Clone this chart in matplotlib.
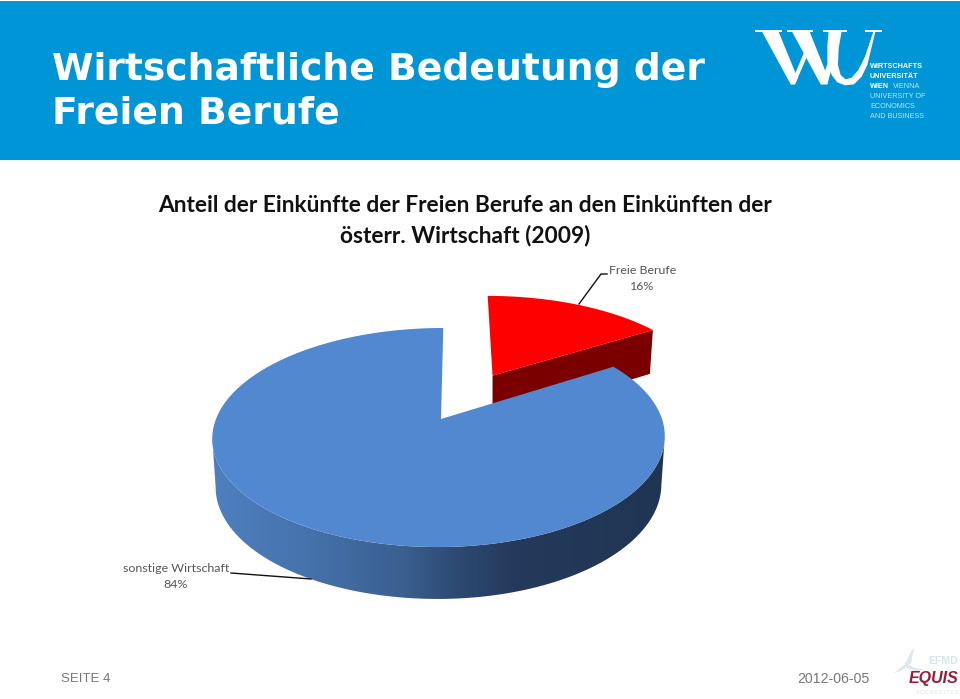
#!/usr/bin/env python3
"""Anteil der Freien Berufe - slide with exploded 3D pie, drawn in pixel coords"""

import matplotlib
matplotlib.use('Agg')
import matplotlib.pyplot as plt
import numpy as np
from matplotlib.colors import LinearSegmentedColormap
from matplotlib.patches import Polygon, Rectangle

# chart data
categories = ['Freie Berufe', 'sonstige Wirtschaft']
shares = [16, 84]
slice_colors = ['#ff0000', '#5288d0']
explode = [0.50, 0.0]

title_lines = ['Wirtschaftliche Bedeutung der', 'Freien Berufe']
chart_title = ['Anteil der Einkünfte der Freien Berufe an den Einkünften der',
               'österr. Wirtschaft (2009)']

# pie projection, in pixels
APEX_X, APEX_Y = 441, 419
FX, FY, PERSP, SKEW = 225.0, 106.4, 0.169, 0.025
FX_RIGHT = 221.0


def project(u, v, fx=FX):
    """Disc coordinates to screen, with simple perspective"""
    d = 1 + PERSP * v
    y = APEX_Y - FY * v / d
    return APEX_X + fx * u / d + SKEW * (APEX_Y - y), y


def wall_offset(v):
    """Height of the extruded side, nearer is taller"""
    return 47.5 / (1 + 0.085 * v)


def disc_points(a0, a1, n, shift=(0, 0)):
    t = np.radians(np.linspace(a0, a1, n))
    return np.sin(t) + shift[0], np.cos(t) + shift[1]


def logo_poly(ax, pts):
    pts = np.array(pts, dtype=float)
    ax.add_patch(Polygon(np.column_stack([750 + pts[:, 0] / 3, 25 + pts[:, 1] / 3]),
                         color='white', lw=0))


fig = plt.figure(figsize=(9.6, 6.99), dpi=100, facecolor='white')
ax = fig.add_axes([0, 0, 1, 1])
ax.axis('off')

# header band
ax.add_patch(Rectangle((0, 1), 960, 159, color='#0095d6', lw=0))
for y, line in zip([69.5, 113.5], title_lines):
    ax.text(52, y, line, color='white', fontsize=27.1, fontweight='bold',
            family='DejaVu Sans', va='center', ha='left')

# WU logo
logo_poly(ax, [(15, 15), (95, 15), (95, 22), (15, 22)])
logo_poly(ax, [(35, 18), (85, 18), (143, 160), (135, 178), (122, 178)])
logo_poly(ax, [(122, 178), (135, 178), (175, 85), (168, 68)])
logo_poly(ax, [(110, 15), (190, 15), (190, 22), (110, 22)])
logo_poly(ax, [(125, 18), (178, 18), (235, 160), (232, 178), (212, 178)])
logo_poly(ax, [(212, 178), (232, 178), (245, 130), (236, 105)])
logo_poly(ax, [(218, 15), (292, 15), (292, 22), (218, 22)])
logo_poly(ax, [(345, 15), (395, 15), (395, 20), (345, 20)])
logo_poly(ax, [(236, 18), (232, 60), (232, 110), (245, 150), (262, 172), (285, 181),
               (312, 178), (335, 155), (352, 120), (376, 20), (370, 20), (345, 95),
               (325, 135), (305, 158), (287, 163), (272, 150), (264, 120), (266, 70),
               (275, 18)])
logo_lines = [('WIRTSCHAFTS', 'bold', 'white'), ('UNIVERSITÄT', 'bold', 'white'),
              ('WIEN', 'bold', 'white'), ('UNIVERSITY OF', 'normal', '#bfe6f7'),
              ('ECONOMICS', 'normal', '#bfe6f7'), ('AND BUSINESS', 'normal', '#bfe6f7')]
for i, (txt, weight, col) in enumerate(logo_lines):
    ax.text(870, 67 + i * 9.8, txt, color=col, fontsize=5.2, fontweight=weight,
            family='Liberation Sans', va='center', ha='left')
ax.text(893, 86.6, 'VIENNA', color='#bfe6f7', fontsize=5.2,
        family='Liberation Sans', va='center', ha='left')

# chart title
for y, line in zip([205.5, 235.5], chart_title):
    ax.text(465, y, line, fontsize=16.35, fontweight='bold', family='Lato',
            color='#111111', ha='center', va='center')

# slice angles come from the shares, clockwise from 12 o'clock
red_angle = 360 * shares[0] / sum(shares)
mid = np.radians(red_angle / 2)
red_shift = (explode[0] * np.sin(mid), explode[0] * np.cos(mid))

# red slice, cut face then top
corner_u = np.sin(np.radians(red_angle)) + red_shift[0]
corner_v = np.cos(np.radians(red_angle)) + red_shift[1]
p0 = project(*red_shift)
p1 = project(corner_u, corner_v)
h0, h1 = wall_offset(red_shift[1]), wall_offset(corner_v)
ax.add_patch(Polygon([p0, p1, (p1[0] - 3, p1[1] + h1), (p0[0], p0[1] + h0)],
                     color='#7a0000', lw=0))
u, v = disc_points(0, red_angle, 60, red_shift)
xs, ys = project(u, v)
ax.add_patch(Polygon(np.column_stack([np.r_[p0[0], xs], np.r_[p0[1], ys]]),
                     color=slice_colors[0], lw=0))

# blue wall, one horizontal gradient clipped to the front of the side outline
u, v = disc_points(red_angle, 360, 400)
xs, ys = project(u, v, np.where(u > 0, FX_RIGHT, FX))
bx = 438 + (xs - 438) * 0.985
by = ys + wall_offset(v)
right_i, left_i = np.argmax(xs), np.argmin(xs)
front_x = xs[right_i:left_i + 1]
front_y = ys[right_i:left_i + 1]
low_x = bx[right_i:left_i + 1]
low_y = by[right_i:left_i + 1]
wall_cmap = LinearSegmentedColormap.from_list('wall', [
    (0.0, '#4f7fc0'), (0.2, '#4673ad'), (0.42, '#3a5f90'), (0.52, '#2f4c75'),
    (0.66, '#243a5c'), (1.0, '#203552')])
wall = ax.imshow(np.linspace(0, 1, 256).reshape(1, -1), cmap=wall_cmap, aspect='auto',
                 extent=(212, 668, 610, 320), zorder=1)
wall_outline = Polygon(np.column_stack([np.r_[front_x, low_x[::-1]],
                                        np.r_[front_y, low_y[::-1]]]),
                       transform=ax.transData, fill=False, lw=0)
ax.add_patch(wall_outline)
wall.set_clip_path(wall_outline)

# blue top
ax.add_patch(Polygon(np.column_stack([np.r_[APEX_X, xs], np.r_[APEX_Y, ys]]),
                     color=slice_colors[1], lw=0, zorder=2))

# leader lines and labels
ax.plot([579, 601, 607], [304, 274, 274], color='#111111', lw=1.0, zorder=3)
ax.plot([231, 311], [573, 579], color='#111111', lw=1.0, zorder=3)
ax.text(642.5, 271, categories[0], fontsize=8.9, family='Lato', color='#555555',
        ha='center', va='center')
ax.text(642.5, 287, f'{shares[0]}%', fontsize=8.9, family='Lato', color='#555555',
        ha='center', va='center')
ax.text(176, 568, categories[1], fontsize=8.9, family='Lato', color='#555555',
        ha='center', va='center')
ax.text(176, 585, f'{shares[1]}%', fontsize=8.9, family='Lato', color='#555555',
        ha='center', va='center')

# footer
ax.text(61, 679, 'SEITE 4', fontsize=9.5, family='Liberation Sans', color='#777777',
        ha='left', va='center')
ax.text(869, 679, '2012-06-05', fontsize=10.2, family='Liberation Sans', color='#777777',
        ha='right', va='center')

# EQUIS badge
ax.add_patch(Polygon([(893, 674), (905, 664), (912, 650), (914, 648), (911, 663),
                      (902, 670)], color='#dbe9f0', lw=0))
ax.add_patch(Polygon([(905, 663), (915, 668), (927, 670), (915, 671), (904, 667)],
                     color='#dbe9f0', lw=0))
ax.text(958, 661, 'EFMD', fontsize=7.5, fontweight='bold', family='Liberation Sans',
        color='#d3e5ee', ha='right', va='center')
ax.text(958, 679, 'EQUIS', fontsize=11.5, fontweight='bold', style='italic',
        family='Liberation Sans', color='#9c1c3c', ha='right', va='center')
ax.text(958, 692.5, 'A C C R E D I T E D', fontsize=3.4, family='Liberation Sans',
        color='#d3e5ee', ha='right', va='center')

ax.set_xlim(0, 960)
ax.set_ylim(699, 0)

plt.savefig('out.png', dpi=100, facecolor='white')
plt.close()
